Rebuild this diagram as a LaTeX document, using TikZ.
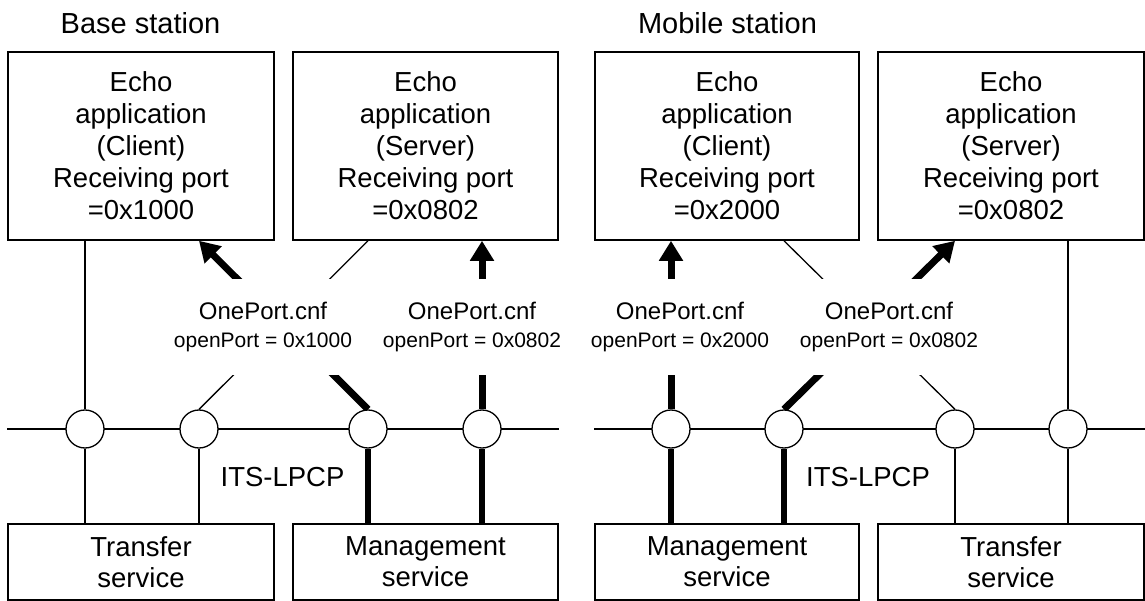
\documentclass[tikz,border=0pt]{standalone}
\usepackage{fontspec}
\setmainfont{Liberation Sans}
\usetikzlibrary{arrows.meta,backgrounds}
\begin{document}
\begin{tikzpicture}[x=1pt,y=-1pt,
  topbox/.style={draw,line width=1.6pt,minimum width=266pt,minimum height=188pt,align=center,inner sep=0pt,font=\fontsize{27.5}{32}\selectfont},
  botbox/.style={draw,line width=1.6pt,minimum width=266pt,minimum height=76pt,align=center,inner sep=0pt,font=\fontsize{27.5}{31}\selectfont},
  port/.style={circle,draw,fill=white,line width=1.3pt,minimum size=38pt,inner sep=0pt},
  cfg/.style={fill=white,minimum height=95pt,align=center,inner sep=0pt,font=\fontsize{24}{28}\selectfont},
  title/.style={font=\fontsize{29}{33}\selectfont,inner sep=0pt},
  proto/.style={font=\fontsize{27.5}{31}\selectfont,inner sep=0pt},
  thin/.style={line width=1.3pt},
  thick/.style={line width=6.5pt},
  arr/.style={line width=7pt,-{Triangle[length=20pt,width=23pt]}}]
\useasboundingbox (0,0) rectangle (1145,601);
% titles
\node[title] (t1) at (140.5,23) {Base station};
\node[title] (t2) at (727.5,23) {Mobile station};
% top boxes
\node[topbox] (B1) at (141,146) {Echo\\application\\(Client)\\Receiving port\\=0x1000};
\node[topbox,minimum width=265pt] (B2) at (425.5,146) {Echo\\application\\(Server)\\Receiving port\\=0x0802};
\node[topbox,minimum width=264pt] (B3) at (727,146) {Echo\\application\\(Client)\\Receiving port\\=0x2000};
\node[topbox] (B4) at (1011,146) {Echo\\application\\(Server)\\Receiving port\\=0x0802};
% bottom boxes
\node[botbox] (S1) at (141,562) {Transfer\\service};
\node[botbox,minimum width=265pt] (S2) at (425.5,562) {Management\\service};
\node[botbox,minimum width=264pt] (S3) at (727,562) {Management\\service};
\node[botbox] (S4) at (1011,562) {Transfer\\service};
% ports
\node[port] (c1) at (85,429) {};
\node[port] (c2) at (199,429) {};
\node[port] (c3) at (368,429) {};
\node[port] (c4) at (482,429) {};
\node[port] (d1) at (671,429) {};
\node[port] (d2) at (784,429) {};
\node[port] (d3) at (955,429) {};
\node[port] (d4) at (1068,429) {};
% protocol labels
\node[proto] (p1) at (282.5,477) {ITS-LPCP};
\node[proto] (p2) at (868,477) {ITS-LPCP};
\begin{scope}[on background layer]
  % buses
  \draw[thin] (B1.west |- c1) -- (B2.east |- c1);
  \draw[thin] (B3.west |- d1) -- (B4.east |- d1);
  % base station
  \draw[thin] (c1.north) -- (c1 |- B1.south);
  \draw[thin] (c1.south) -- (c1 |- S1.north);
  \draw[thin] (c2.south) -- (c2 |- S1.north);
  \draw[thick] (c3.south) -- (c3 |- S2.north);
  \draw[thick] (c4.south) -- (c4 |- S2.north);
  \draw[thin] (c2.north) -- (c3 |- B2.south);
  \draw[arr] (c3.north) -- (c2 |- B1.south);
  \draw[arr] (c4.north) -- (c4 |- B2.south);
  % mobile station
  \draw[thin] (d4.north) -- (d4 |- B4.south);
  \draw[thick] (d1.south) -- (d1 |- S3.north);
  \draw[thick] (d2.south) -- (d2 |- S3.north);
  \draw[thin] (d3.south) -- (d3 |- S4.north);
  \draw[thin] (d4.south) -- (d4 |- S4.north);
  \draw[thin] (d3.north) -- (d2 |- B3.south);
  \draw[arr] (d2.north) -- (d3 |- B4.south);
  \draw[arr] (d1.north) -- (d1 |- B3.south);
\end{scope}
% configuration labels (mask the crossing lines)
\node[cfg,minimum width=200pt] (L1) at (263,327) {OnePort.cnf\\{\fontsize{21}{28}\selectfont openPort = 0x1000}};
\node[cfg,minimum width=180pt] (L2) at (472,327) {OnePort.cnf\\{\fontsize{21}{28}\selectfont openPort = 0x0802}};
\node[cfg,minimum width=180pt] (L3) at (680,327) {OnePort.cnf\\{\fontsize{21}{28}\selectfont openPort = 0x2000}};
\node[cfg,minimum width=200pt] (L4) at (889,327) {OnePort.cnf\\{\fontsize{21}{28}\selectfont openPort = 0x0802}};
\end{tikzpicture}
\end{document}
